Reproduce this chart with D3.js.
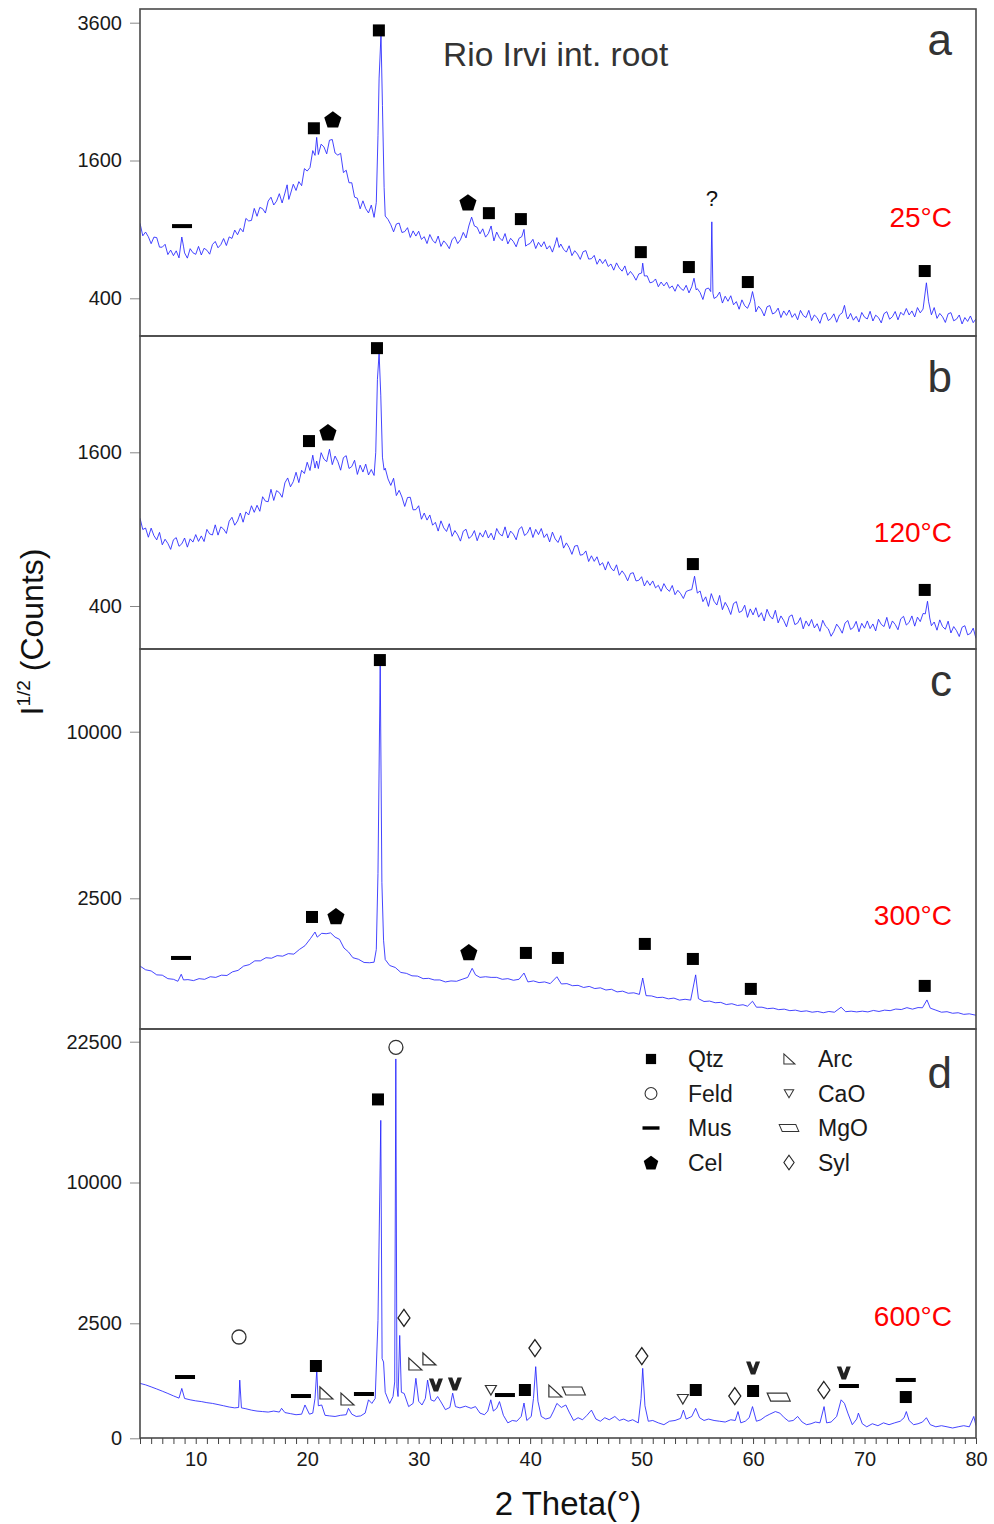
<!DOCTYPE html>
<html>
<head>
<meta charset="utf-8">
<script src="https://cdn.jsdelivr.net/npm/d3@7"></script>
<style>
  body { margin: 0; background: #fff; }
  svg { display: block; font-family: "Liberation Sans", Arial, sans-serif; }
</style>
</head>
<body>
<svg width="994" height="1524"></svg>
<script>
// XRD scans, [2theta, counts]
var scan25 = [[5,954],[5.25,845],[5.5,877],[5.75,837],[6,780],[6.25,834],[6.5,830],[6.75,752],[7,752],[7.25,775],[7.5,694],[7.75,729],[8,686],[8.25,723],[8.5,669],[8.75,835],[8.9,760],[9,707],[9.25,667],[9.5,740],[9.75,708],[10,696],[10.25,758],[10.5,691],[10.75,743],[11,728],[11.25,697],[11.5,773],[11.75,798],[12,747],[12.25,772],[12.5,822],[12.75,765],[13,836],[13.25,823],[13.5,894],[13.75,854],[14,909],[14.25,879],[14.5,998],[14.75,975],[15,980],[15.25,1092],[15.5,1018],[15.75,1102],[16,1089],[16.25,1048],[16.5,1164],[16.75,1202],[17,1125],[17.25,1163],[17.5,1238],[17.75,1145],[18,1244],[18.2,1330],[18.35,1180],[18.5,1235],[18.75,1336],[19,1271],[19.25,1364],[19.5,1321],[19.75,1507],[20,1480],[20.25,1519],[20.5,1717],[20.7,1660],[20.85,1880],[21,1670],[21.25,1795],[21.5,1762],[21.75,1678],[22,1844],[22.25,1853],[22.5,1688],[22.75,1663],[23,1685],[23.25,1463],[23.5,1489],[23.75,1352],[24,1352],[24.25,1203],[24.5,1192],[24.75,1088],[25,1166],[25.25,1090],[25.5,1049],[25.75,1124],[26,1008],[26.2,1150],[26.35,1900],[26.45,2700],[26.62,3400],[26.75,2300],[26.9,1300],[27,1020],[27.25,989],[27.5,941],[27.75,879],[28,948],[28.25,956],[28.5,873],[28.75,881],[29,915],[29.25,831],[29.5,887],[29.75,843],[30,884],[30.25,815],[30.5,838],[30.75,781],[31,856],[31.25,808],[31.5,784],[31.75,843],[32,758],[32.25,803],[32.5,777],[32.75,740],[33,814],[33.25,837],[33.5,781],[33.75,812],[34,874],[34.25,827],[34.5,930],[34.75,1010],[35,930],[35.25,918],[35.5,862],[35.75,905],[36,834],[36.25,864],[36.5,930],[36.75,803],[37,877],[37.25,828],[37.5,804],[37.75,864],[38,778],[38.25,824],[38.5,797],[38.75,755],[39,824],[39.25,838],[39.45,900],[39.6,760],[39.75,771],[40,782],[40.25,816],[40.5,741],[40.75,791],[41,755],[41.25,796],[41.5,737],[41.75,763],[42,713],[42.25,780],[42.4,830],[42.6,750],[42.75,777],[43,735],[43.25,713],[43.5,763],[43.75,686],[44,724],[44.25,698],[44.5,658],[44.75,716],[45,725],[45.25,660],[45.5,663],[45.75,688],[46,622],[46.25,661],[46.5,627],[46.75,657],[47,606],[47.25,624],[47.5,580],[47.75,632],[48,595],[48.25,573],[48.5,610],[48.75,545],[49,571],[49.25,546],[49.5,512],[49.75,554],[50,560],[50.1,630],[50.25,540],[50.5,541],[50.75,495],[51,500],[51.25,520],[51.5,470],[51.75,500],[52,475],[52.25,499],[52.5,461],[52.75,475],[53,442],[53.25,485],[53.5,460],[53.75,447],[54,479],[54.25,432],[54.5,470],[54.7,525],[54.9,450],[55,458],[55.25,434],[55.5,393],[55.75,455],[56,462],[56.2,440],[56.3,967],[56.4,430],[56.5,399],[56.75,409],[57,437],[57.25,373],[57.5,412],[57.75,383],[58,415],[58.25,363],[58.5,381],[58.75,339],[59,391],[59.25,358],[59.5,344],[59.75,380],[59.95,440],[60.15,380],[60.25,325],[60.5,355],[60.75,336],[61,304],[61.25,352],[61.5,359],[61.75,314],[62,322],[62.25,345],[62.5,296],[62.75,330],[63,307],[63.25,335],[63.5,297],[63.75,316],[64,285],[64.25,333],[64.5,306],[64.75,296],[65,333],[65.25,281],[65.5,309],[65.75,295],[66,268],[66.25,312],[66.5,320],[66.75,281],[67,292],[67.25,315],[67.5,273],[67.75,309],[68,320],[68.2,360],[68.4,300],[68.5,289],[68.75,317],[69,283],[69.25,302],[69.5,274],[69.75,322],[70,298],[70.25,289],[70.5,328],[70.75,279],[71,308],[71.25,296],[71.5,270],[71.75,316],[72,326],[72.25,288],[72.5,300],[72.75,327],[73,285],[73.25,323],[73.5,308],[73.75,343],[74,309],[74.25,330],[74.5,299],[74.75,348],[75,320],[75.25,340],[75.55,495],[75.75,380],[76,310],[76.25,348],[76.5,292],[76.75,317],[77,300],[77.25,272],[77.5,315],[77.75,321],[78,280],[78.25,288],[78.5,309],[78.75,265],[79,296],[79.25,277],[79.5,304],[79.75,271],[80,290]];

var scan120 = [[5,988],[5.25,897],[5.5,909],[5.75,838],[6,908],[6.25,850],[6.5,818],[6.75,875],[7,782],[7.25,823],[7.5,792],[7.75,749],[8,819],[8.25,835],[8.5,771],[8.75,789],[9,832],[9.25,765],[9.5,826],[9.75,802],[10,858],[10.25,807],[10.5,848],[10.75,806],[11,898],[11.25,863],[11.5,855],[11.75,934],[12,854],[12.25,918],[12.5,901],[12.75,867],[13,963],[13.25,995],[13.5,931],[13.75,965],[14,1030],[14.25,955],[14.5,1040],[14.75,1014],[15,1092],[15.25,1036],[15.5,1096],[15.75,1045],[16,1171],[16.25,1132],[16.5,1127],[16.75,1238],[17,1138],[17.25,1226],[17.5,1208],[17.75,1166],[18,1298],[18.25,1344],[18.5,1261],[18.75,1309],[19,1399],[19.25,1300],[19.5,1418],[19.75,1387],[20,1498],[20.25,1416],[20.5,1570],[20.7,1440],[20.85,1510],[21,1435],[21.25,1596],[21.5,1530],[21.75,1504],[22,1632],[22.25,1474],[22.5,1561],[22.75,1505],[23,1419],[23.25,1545],[23.5,1565],[23.75,1436],[24,1455],[24.25,1518],[24.5,1378],[24.75,1469],[25,1401],[25.25,1479],[25.5,1373],[25.75,1426],[26,1368],[26.15,1600],[26.3,2450],[26.45,2800],[26.6,2250],[26.75,1550],[26.9,1420],[27,1439],[27.25,1335],[27.5,1274],[27.75,1341],[28,1181],[28.25,1229],[28.5,1168],[28.75,1086],[29,1164],[29.25,1166],[29.5,1057],[29.75,1059],[30,1092],[30.25,979],[30.5,1030],[30.75,972],[31,1014],[31.25,931],[31.5,954],[31.75,885],[32,966],[32.25,910],[32.5,882],[32.75,943],[33,845],[33.25,889],[33.5,856],[33.75,809],[34,884],[34.25,899],[34.5,829],[34.75,846],[35,889],[35.25,812],[35.5,872],[35.75,839],[36,891],[36.25,832],[36.5,869],[36.75,818],[37,905],[37.25,863],[37.5,848],[37.75,918],[38,832],[38.25,885],[38.5,861],[38.75,819],[39,899],[39.25,919],[39.5,851],[39.75,869],[40,915],[40.25,836],[40.5,898],[40.75,858],[41,905],[41.25,836],[41.5,864],[41.75,803],[42,877],[42.25,825],[42.5,799],[42.75,850],[43,758],[43.25,796],[43.5,762],[43.75,714],[44,773],[44.25,777],[44.5,708],[44.75,713],[45,738],[45.25,665],[45.5,704],[45.75,666],[46,697],[46.25,640],[46.5,657],[46.75,609],[47,664],[47.25,623],[47.5,603],[47.75,643],[48,576],[48.25,604],[48.5,579],[48.75,542],[49,587],[49.25,592],[49.5,541],[49.75,545],[50,567],[50.25,511],[50.5,543],[50.75,515],[51,541],[51.25,500],[51.5,515],[51.75,480],[52,525],[52.25,495],[52.5,480],[52.75,514],[53,461],[53.25,486],[53.5,467],[53.75,440],[54,479],[54.25,486],[54.5,490],[54.75,570],[55,470],[55.25,482],[55.5,423],[55.75,449],[56,398],[56.25,467],[56.5,425],[56.75,405],[57,457],[57.25,381],[57.5,419],[57.75,393],[58,357],[58.25,413],[58.5,423],[58.75,367],[59,374],[59.25,404],[59.5,343],[59.75,385],[60,355],[60.25,391],[60.5,344],[60.75,366],[61,326],[61.25,383],[61.5,350],[61.75,335],[62,378],[62.25,317],[62.5,350],[62.75,328],[63,299],[63.25,347],[63.5,355],[63.75,309],[64,316],[64.25,342],[64.5,290],[64.75,326],[65,302],[65.25,333],[65.5,294],[65.75,313],[66,279],[66.25,329],[66.5,302],[66.75,290],[67,258],[67.25,279],[67.5,311],[67.75,294],[68,271],[68.25,316],[68.5,328],[68.75,287],[69,296],[69.25,324],[69.5,277],[69.75,315],[70,293],[70.25,326],[70.5,291],[70.75,312],[71,281],[71.25,334],[71.5,310],[71.75,300],[72,343],[72.25,291],[72.5,326],[72.75,310],[73,286],[73.25,336],[73.5,348],[73.75,307],[74,319],[74.25,350],[74.5,302],[74.75,344],[75,323],[75.25,362],[75.45,360],[75.65,425],[75.85,340],[76,304],[76.25,321],[76.5,284],[76.75,331],[77,300],[77.25,288],[77.5,325],[77.75,272],[78,300],[78.25,282],[78.5,257],[78.75,297],[79,304],[79.25,264],[79.5,270],[79.75,293],[80,249]];

var scan300 = [[5,880],[5.5,815],[6,795],[6.5,730],[7,725],[7.5,670],[8,660],[8.4,630],[8.7,740],[8.9,650],[9.3,655],[9.8,640],[10.3,670],[10.8,660],[11.3,700],[11.8,690],[12.3,725],[12.8,720],[13.3,780],[13.8,805],[14.3,880],[14.8,905],[15.3,975],[15.8,975],[16.3,1035],[16.8,1025],[17.3,1075],[17.8,1065],[18.3,1115],[18.8,1105],[19.3,1200],[19.8,1280],[20.3,1440],[20.7,1590],[20.9,1470],[21.3,1560],[21.7,1550],[22.1,1570],[22.5,1470],[22.9,1420],[23.3,1230],[23.7,1150],[24.1,1035],[24.6,1005],[25.1,945],[25.6,940],[26,950],[26.2,1200],[26.35,3300],[26.55,14500],[26.7,3000],[26.85,1400],[27,1000],[27.4,890],[27.9,855],[28.4,770],[28.9,755],[29.4,715],[29.9,710],[30.4,670],[30.9,675],[31.4,650],[31.9,650],[32.4,620],[32.9,635],[33.4,630],[33.9,660],[34.4,690],[34.8,840],[35.1,730],[35.5,690],[36,700],[36.5,690],[37,690],[37.5,660],[38,670],[38.5,645],[39,660],[39.45,760],[39.8,620],[40.3,635],[40.8,610],[41.3,620],[41.8,595],[42.4,700],[42.8,590],[43.3,595],[43.8,565],[44.3,570],[44.8,540],[45.3,555],[45.8,525],[46.3,535],[46.8,505],[47.3,515],[47.8,480],[48.3,490],[48.8,462],[49.3,468],[49.8,448],[50.1,680],[50.4,432],[50.9,428],[51.4,408],[51.9,412],[52.4,393],[52.9,402],[53.4,378],[53.9,388],[54.4,378],[54.85,730],[55.1,395],[55.6,362],[56.1,367],[56.6,348],[57.1,352],[57.6,328],[58.1,337],[58.6,318],[59.1,326],[59.5,310],[59.95,365],[60.3,300],[60.8,300],[61.3,285],[61.8,290],[62.3,275],[62.8,280],[63.3,265],[63.8,270],[64.3,257],[64.8,263],[65.3,250],[65.8,257],[66.3,245],[66.8,257],[67.3,250],[67.9,300],[68.3,255],[68.8,260],[69.3,253],[69.8,260],[70.3,253],[70.8,267],[71.3,257],[71.8,270],[72.3,265],[72.8,281],[73.3,276],[73.8,295],[74.3,280],[74.8,296],[75.2,294],[75.6,380],[75.9,290],[76.4,270],[76.9,250],[77.4,255],[77.9,240],[78.4,245],[78.9,230],[79.4,235],[80,222]];

var scan600 = [[5,570],[5.5,540],[6,500],[6.5,460],[7,420],[7.5,380],[8,340],[8.5,305],[8.75,470],[9,300],[9.5,280],[10,265],[10.5,255],[11,240],[11.5,230],[12,215],[12.5,200],[13,185],[13.5,175],[13.85,180],[13.95,640],[14.1,175],[14.5,165],[15,150],[15.5,140],[16,135],[16.5,130],[17,140],[17.5,130],[17.7,170],[18,125],[18.5,115],[19,105],[19.5,110],[19.8,210],[20.2,110],[20.5,120],[20.7,300],[20.86,880],[21,200],[21.3,210],[21.6,100],[22,95],[22.5,90],[23,100],[23.5,105],[23.7,170],[24,110],[24.4,90],[24.8,95],[25.2,120],[25.5,280],[25.8,230],[26.1,300],[26.35,2600],[26.6,14900],[26.72,1200],[26.85,1100],[27,400],[27.4,230],[27.7,330],[27.85,600],[27.95,20700],[28.05,500],[28.15,330],[28.3,2000],[28.45,400],[28.7,380],[29.1,190],[29.5,230],[29.75,680],[30,260],[30.3,210],[30.6,300],[30.8,640],[31.1,280],[31.4,260],[31.7,330],[32,250],[32.4,155],[32.8,180],[33.05,385],[33.3,190],[33.7,175],[34.2,195],[34.7,170],[35.1,190],[35.5,120],[35.9,105],[36.2,140],[36.47,280],[36.7,140],[37,170],[37.25,255],[37.6,100],[38,45],[38.4,60],[38.8,55],[39.2,90],[39.45,235],[39.7,60],[40.1,90],[40.3,300],[40.5,970],[40.7,260],[41,90],[41.4,70],[41.8,80],[42.1,140],[42.4,230],[42.8,180],[43.2,210],[43.5,130],[43.9,60],[44.3,80],[44.7,65],[45.1,100],[45.5,150],[45.9,70],[46.3,55],[46.7,80],[47.1,65],[47.6,90],[48,60],[48.4,70],[48.8,55],[49.2,65],[49.7,45],[49.95,300],[50.1,925],[50.3,200],[50.6,55],[51,60],[51.5,45],[52,35],[52.5,55],[53,60],[53.5,75],[53.75,150],[54,70],[54.5,90],[54.85,170],[55.2,80],[55.6,60],[56,70],[56.5,60],[57,55],[57.5,50],[58,65],[58.4,60],[58.65,135],[58.9,45],[59.3,55],[59.65,80],[59.95,190],[60.3,55],[60.7,65],[61.1,90],[61.5,110],[62,135],[62.4,120],[62.8,80],[63.2,55],[63.6,60],[64,90],[64.4,50],[64.8,35],[65.2,40],[65.6,50],[66,45],[66.37,190],[66.6,45],[67,50],[67.5,90],[67.9,280],[68.2,230],[68.5,120],[68.9,35],[69.3,70],[69.45,120],[69.8,40],[70.2,25],[70.7,40],[71.2,30],[71.7,45],[72.2,35],[72.7,45],[73.2,55],[73.55,80],[73.75,135],[74,60],[74.4,35],[74.8,40],[75.2,50],[75.55,80],[75.9,35],[76.4,25],[76.9,30],[77.4,25],[77.9,20],[78.4,25],[78.9,30],[79.4,25],[79.8,90],[80,30]];

// phase markers, [phase, 2theta, counts]
var marks25 = [["Mus",8.77,929],["Qtz",20.6,1996],["Cel",22.3,2115],["Qtz",26.43,3467],["Cel",34.42,1153],["Qtz",36.3,1047],["Qtz",39.17,992],["Qtz",49.93,713],["Qtz",54.24,602],["Qtz",59.53,500],["Qtz",75.4,574]];
var marks120 = [["Qtz",20.16,1719],["Cel",21.86,1817],["Qtz",26.26,2868],["Qtz",54.6,648],["Qtz",75.4,488]];
var marks300 = [["Mus",8.68,1030],["Qtz",20.43,1971],["Cel",22.58,1997],["Qtz",26.52,14762],["Cel",34.5,1149],["Qtz",39.62,1129],["Qtz",42.49,1030],["Qtz",50.29,1318],["Qtz",54.6,1011],["Qtz",59.8,520],["Qtz",75.4,562]];
var marks600 = [["Mus",9.04,710],["Feld",13.88,1940],["Mus",19.44,338],["Qtz",20.78,988],["Arc",21.68,388],["Arc",23.57,292],["Mus",25.09,371],["Qtz",26.35,16770],["Feld",27.96,21904],["Syl",28.68,2694],["Arc",29.66,1043],["Arc",30.92,1190],["V",31.55,537],["V",33.25,557],["CaO",36.48,441],["Mus",37.74,354],["Qtz",39.53,441],["Syl",40.43,1541],["Arc",42.22,423],["MgO",43.92,423],["Syl",50.02,1280],["CaO",53.7,292],["Qtz",54.86,441],["Syl",58.36,338],["V",60.0,934],["Qtz",60.0,423],["MgO",62.3,322],["Syl",66.35,441],["V",68.14,806],["Mus",68.6,517],["Mus",73.7,643],["Qtz",73.7,322]];
var notes25 = [["?",56.3,1193]];

var legendLeft = ["Qtz", "Feld", "Mus", "Cel"];
var legendRight = ["Arc", "CaO", "MgO", "Syl"];

var ticks25 = [400, 1600, 3600];
var ticks120 = [400, 1600];
var ticks300 = [2500, 10000];
var ticks600 = [0, 2500, 10000, 22500];

var svg = d3.select("svg");
var left = 140, right = 976;

var x = d3.scaleLinear().domain([5, 80]).range([left, right]);

// each panel plots sqrt(counts); d uses a broken scale below 2500
var panels = [
  { id: "a", temp: "25°C", data: scan25, marks: marks25, ticks: ticks25, top: 9, bottom: 336,
    sq: [20, 60], px: [298.3, 22.7], letterY: 55, tempY: 227 },
  { id: "b", temp: "120°C", data: scan120, marks: marks120, ticks: ticks120, top: 336, bottom: 649,
    sq: [20, 40], px: [606, 452.3], letterY: 392, tempY: 542 },
  { id: "c", temp: "300°C", data: scan300, marks: marks300, ticks: ticks300, top: 649, bottom: 1029,
    sq: [50, 100], px: [898.3, 731.7], letterY: 696, tempY: 925 },
  { id: "d", temp: "600°C", data: scan600, marks: marks600, ticks: ticks600, top: 1029, bottom: 1438,
    sq: [0, 50, 150], px: [1438.3, 1323.3, 1041.7], letterY: 1088, tempY: 1326 }
];

var defs = svg.append("defs");

function drawMark(g, type, cx, cy, big) {
  var k = big ? 1 : 0.85;
  var m = g.append("g").attr("transform", "translate(" + cx + "," + cy + ") scale(" + k + ")");
  if (type == "Qtz") {
    m.append("rect").attr("x", -6).attr("y", -6).attr("width", 12).attr("height", 12).attr("fill", "#000");
  } else if (type == "Cel") {
    var pts = d3.range(5).map(function (i) {
      var a = -Math.PI / 2 + i * 2 * Math.PI / 5;
      return [9 * Math.cos(a), 9 * Math.sin(a) + 1];
    });
    m.append("path").attr("d", "M" + pts.join("L") + "Z").attr("fill", "#000");
  } else if (type == "Mus") {
    m.append("rect").attr("x", -10).attr("y", -2).attr("width", 20).attr("height", 4).attr("fill", "#000");
  } else if (type == "Feld") {
    m.append("circle").attr("r", 7).attr("fill", "#fff").attr("stroke", "#333").attr("stroke-width", 1.3);
  } else if (type == "Arc") {
    m.append("path").attr("d", "M-6,-6L-6,6L7,6Z").attr("fill", "#fff").attr("stroke", "#333").attr("stroke-width", 1.2);
  } else if (type == "CaO") {
    m.append("path").attr("d", "M-5.5,-4.5L5.5,-4.5L0,5Z").attr("fill", "#fff").attr("stroke", "#333").attr("stroke-width", 1.2);
  } else if (type == "MgO") {
    m.append("path").attr("d", "M-11.5,-4L8,-4L11.5,4L-8,4Z").attr("fill", "#fff").attr("stroke", "#333").attr("stroke-width", 1.2);
  } else if (type == "Syl") {
    m.append("path").attr("d", "M0,-8.5L6,0L0,8.5L-6,0Z").attr("fill", "#fff").attr("stroke", "#222").attr("stroke-width", 1.3);
  } else if (type == "V") {
    m.append("path").attr("d", "M-7,-6.5L-2.6,-6.5L0,0.5L2.6,-6.5L7,-6.5L2.2,6.5L-2.2,6.5Z").attr("fill", "#222");
  }
}

panels.forEach(function (p) {
  var y = d3.scaleLinear().domain(p.sq).range(p.px);
  var yc = function (v) { return y(Math.sqrt(v)); };
  var g = svg.append("g").attr("class", "panel-" + p.id);

  defs.append("clipPath").attr("id", "clip-" + p.id)
    .append("rect")
    .attr("x", left).attr("y", p.top)
    .attr("width", right - left).attr("height", p.bottom - p.top);

  var line = d3.line()
    .x(function (d) { return x(d[0]); })
    .y(function (d) { return yc(d[1]); });

  g.append("path")
    .datum(p.data)
    .attr("clip-path", "url(#clip-" + p.id + ")")
    .attr("d", line)
    .attr("fill", "none")
    .attr("stroke", "#2424ff")
    .attr("stroke-width", 0.85)
    .attr("stroke-linejoin", "round");

  // y axis
  var yAxis = g.append("g")
    .attr("transform", "translate(" + left + ",0)")
    .call(d3.axisLeft(y)
      .tickValues(p.ticks.map(Math.sqrt))
      .tickSize(10)
      .tickPadding(8)
      .tickFormat(function (s) { return Math.round(s * s); }));
  yAxis.select(".domain").remove();
  yAxis.selectAll(".tick line").attr("stroke", "#888");
  yAxis.selectAll(".tick text").attr("font-size", 20).attr("fill", "#1a1a1a")
    .attr("font-family", "Liberation Sans, Arial, sans-serif");

  g.append("rect")
    .attr("x", left).attr("y", p.top)
    .attr("width", right - left).attr("height", p.bottom - p.top)
    .attr("fill", "none").attr("stroke", "#4a4a4a").attr("stroke-width", 1.6);

  p.marks.forEach(function (mk) {
    drawMark(g, mk[0], x(mk[1]), yc(mk[2]), true);
  });

  g.append("text")
    .attr("x", 952).attr("y", p.letterY)
    .attr("text-anchor", "end")
    .attr("font-size", 44)
    .attr("fill", "#333")
    .text(p.id);

  g.append("text")
    .attr("x", 952).attr("y", p.tempY)
    .attr("text-anchor", "end")
    .attr("font-size", 28)
    .attr("fill", "#ff0000")
    .text(p.temp);

  if (p.id == "a") {
    notes25.forEach(function (n) {
      g.append("text")
        .attr("x", x(n[1])).attr("y", yc(n[2]) + 8)
        .attr("text-anchor", "middle")
        .attr("font-size", 22)
        .attr("fill", "#111")
        .text(n[0]);
    });
    g.append("text")
      .attr("x", 443).attr("y", 66)
      .attr("font-size", 33.5)
      .attr("fill", "#333")
      .text("Rio Irvi int. root");
  }

  if (p.id == "d") {
    var xAxis = g.append("g")
      .attr("transform", "translate(0," + p.bottom + ")")
      .call(d3.axisBottom(x)
        .tickValues(d3.range(5, 81, 1))
        .tickSize(6)
        .tickPadding(8)
        .tickFormat(function (v) { return v % 10 == 0 ? v : ""; }));
    xAxis.select(".domain").remove();
    xAxis.selectAll(".tick line").attr("stroke", "#444");
    xAxis.selectAll(".tick text").attr("font-size", 20).attr("fill", "#1a1a1a")
      .attr("font-family", "Liberation Sans, Arial, sans-serif");

    // legend
    var lg = g.append("g");
    [legendLeft, legendRight].forEach(function (col, ci) {
      col.forEach(function (name, ri) {
        var ly = 1059 + ri * 34.5;
        drawMark(lg, name, ci == 0 ? 651 : 789, ly, false);
        lg.append("text")
          .attr("x", ci == 0 ? 688 : 818).attr("y", ly + 8)
          .attr("font-size", 23)
          .attr("fill", "#1a1a1a")
          .text(name);
      });
    });
  }
});

svg.append("text")
  .attr("x", 568).attr("y", 1515)
  .attr("text-anchor", "middle")
  .attr("font-size", 33)
  .attr("fill", "#111")
  .text("2 Theta(°)");

var yl = svg.append("text")
  .attr("transform", "translate(43,632) rotate(-90)")
  .attr("text-anchor", "middle")
  .attr("font-size", 32)
  .attr("fill", "#111");
yl.append("tspan").text("I");
yl.append("tspan").attr("font-size", 19).attr("dy", -13).text("1/2");
yl.append("tspan").attr("dy", 13).text(" (Counts)");
</script>
</body>
</html>
